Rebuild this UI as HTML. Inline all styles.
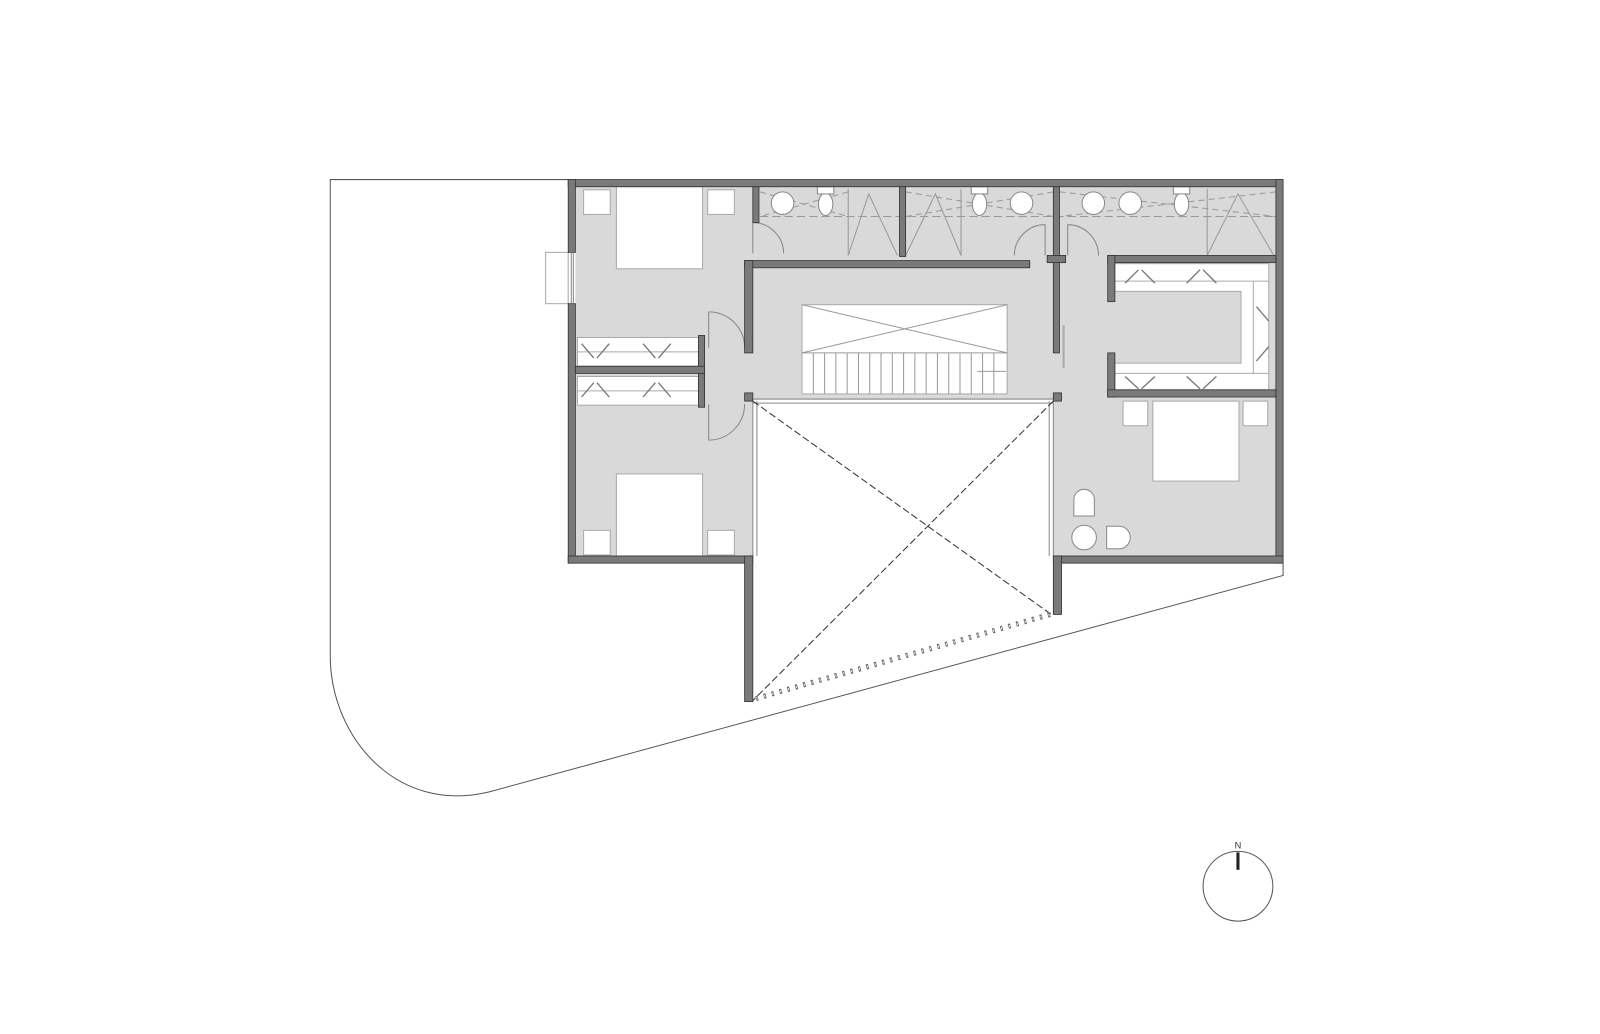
<!DOCTYPE html>
<html><head><meta charset="utf-8"><style>html,body{margin:0;padding:0;background:#fff}svg{display:block}</style></head>
<body>
<svg width="1600" height="1034" viewBox="0 0 1560 1008" xmlns="http://www.w3.org/2000/svg">
<rect width="1560" height="1008" fill="#fff"/>
<g transform="translate(-3,-1)">
<!-- site boundary -->
<path d="M557,176 H325 V640 C325,720 390,795 480,773 L1254,562 V550" fill="none" stroke="#555" stroke-width="1"/>
<!-- gray floor -->
<g fill="#d9d9d9">
<rect x="564" y="183" width="683" height="207"/>
<rect x="564" y="390" width="173" height="153"/>
<rect x="1030" y="390" width="217" height="153"/>
</g>
<!-- white areas -->
<g fill="#fff" stroke="#aaa" stroke-width="1">
<rect x="1090" y="258" width="150" height="123"/>
<rect x="566" y="330" width="118" height="28"/>
<rect x="566" y="368" width="118" height="28"/>
<rect x="785" y="298" width="200" height="87"/>
<rect x="604" y="183" width="84" height="80"/>
<rect x="572" y="186" width="26" height="24"/>
<rect x="693" y="186" width="26" height="24"/>
<rect x="604" y="463" width="84" height="80"/>
<rect x="572" y="518" width="26" height="24"/>
<rect x="693" y="518" width="26" height="24"/>
<rect x="1127" y="392" width="84" height="78"/>
<rect x="1098" y="392" width="24" height="24"/>
<rect x="1215" y="392" width="24" height="24"/>
<rect x="535" y="247" width="22" height="50"/>
</g>
<line x1="1090" y1="275" x2="1240" y2="275" stroke="#aaa"/>
<line x1="1090" y1="365" x2="1240" y2="365" stroke="#aaa"/>
<line x1="1225" y1="275" x2="1225" y2="365" stroke="#aaa"/>
<rect x="1086" y="285" width="127" height="70" fill="#d9d9d9" stroke="#aaa"/>
<rect x="1084" y="286" width="8" height="68" fill="#d9d9d9"/>
<line x1="566" y1="344" x2="684" y2="344" stroke="#aaa"/>
<line x1="566" y1="382" x2="684" y2="382" stroke="#aaa"/>
<!-- closet hanger marks -->
<g stroke="#777" stroke-width="1.3">
<path d="M570,336 l12,14 M585,350 l12,-14 M630,336 l12,14 M645,350 l12,-14"/>
<path d="M570,388 l12,-14 M585,374 l12,14 M630,388 l12,-14 M645,374 l12,14"/>
<path d="M1100,277 l13,-13 M1116,264 l13,13 M1160,277 l13,-13 M1176,264 l13,13"/>
<path d="M1100,368 l13,12 M1116,380 l13,-12 M1160,368 l13,12 M1176,380 l13,-12"/>
<path d="M1228,300 l12,14 M1228,353 l12,-14"/>
</g>
<!-- stair -->
<path d="M785,298 L985,345 M985,298 L785,345 M785,345 H985" stroke="#999" fill="none"/>
<g stroke="#999">
<line x1="796" y1="345" x2="796" y2="385"/><line x1="807" y1="345" x2="807" y2="385"/><line x1="818" y1="345" x2="818" y2="385"/><line x1="829" y1="345" x2="829" y2="385"/><line x1="840" y1="345" x2="840" y2="385"/><line x1="851" y1="345" x2="851" y2="385"/><line x1="862" y1="345" x2="862" y2="385"/><line x1="873" y1="345" x2="873" y2="385"/><line x1="884" y1="345" x2="884" y2="385"/><line x1="895" y1="345" x2="895" y2="385"/><line x1="906" y1="345" x2="906" y2="385"/><line x1="917" y1="345" x2="917" y2="385"/><line x1="928" y1="345" x2="928" y2="385"/><line x1="939" y1="345" x2="939" y2="385"/><line x1="950" y1="345" x2="950" y2="385"/><line x1="961" y1="345" x2="961" y2="385"/><line x1="972" y1="345" x2="972" y2="385"/>
<line x1="956" y1="363" x2="984" y2="363"/>
</g>
<!-- bath fixtures -->
<g stroke="#999" fill="none" stroke-width="1">
<path d="M744,212 H1247" stroke-dasharray="8 4"/>
<path d="M744,188 L830,212 M830,188 L744,212 M886,188 L1030,212 M1030,188 L886,212 M1036,188 L1247,212 M1247,188 L1036,212" stroke-dasharray="6 4"/>
<path d="M830,185 V250 M830,250 L850,190 L878,250 M940,185 V250 M886,250 L915,190 L940,250 M1180,185 V250 M1180,250 L1210,190 L1245,250"/>
</g>
<g fill="#fff" stroke="#888">
<circle cx="766" cy="199" r="11"/><ellipse cx="808" cy="200" rx="7" ry="11"/><rect x="800" y="183" width="16" height="7"/>
<circle cx="999" cy="199" r="11"/><ellipse cx="958" cy="200" rx="7" ry="11"/><rect x="950" y="183" width="16" height="7"/>
<circle cx="1069" cy="199" r="11"/><circle cx="1105" cy="199" r="11"/><ellipse cx="1155" cy="200" rx="7" ry="11"/><rect x="1147" y="183" width="16" height="7"/>
<path d="M1050,504 V488 a10,10 0 0 1 20,0 V504 Z"/>
<circle cx="1060" cy="525" r="12"/>
<path d="M1082,514 H1094 a11,11 0 0 1 0,22 H1082 Z"/>
</g>
<!-- doors -->
<g stroke="#888" fill="none">
<path d="M737,218 A30,30 0 0 1 767,248"/><line x1="737" y1="218" x2="737" y2="248"/>
<path d="M1022,220 A30,30 0 0 0 992,250"/><line x1="1022" y1="220" x2="1022" y2="250"/>
<path d="M1044,220 A30,30 0 0 1 1074,250"/><line x1="1044" y1="220" x2="1044" y2="250"/>
<path d="M694,305 A35,35 0 0 1 729,340"/><line x1="694" y1="305" x2="694" y2="340"/>
<path d="M694,430 A35,35 0 0 0 729,395"/><line x1="694" y1="395" x2="694" y2="430"/>
<line x1="1040" y1="318" x2="1040" y2="360" stroke="#aaa" stroke-width="2"/>
</g>
<!-- void -->
<g stroke="#888" fill="none">
<line x1="737" y1="390" x2="1030" y2="390"/><line x1="737" y1="394" x2="1030" y2="394"/>
<line x1="737" y1="392" x2="737" y2="543"/><line x1="741" y1="392" x2="741" y2="543"/>
<line x1="1026" y1="392" x2="1026" y2="543"/><line x1="1030" y1="392" x2="1030" y2="543"/>
</g>
<g stroke="#333" stroke-width="1" stroke-dasharray="7 3">
<line x1="737" y1="392" x2="1028" y2="600"/>
<line x1="1030" y1="392" x2="737" y2="684"/>
</g>
<line x1="740" y1="682" x2="1027" y2="600" stroke="#666" stroke-width="5" stroke-dasharray="2.2 5.8"/>
<line x1="740" y1="682" x2="1027" y2="600" stroke="#fff" stroke-width="2.5" stroke-dasharray="0.8 7.2" stroke-dashoffset="-0.7"/>
<!-- walls -->
<g fill="#7a7a7a" stroke="#333" stroke-width="0.8">
<rect x="557" y="176" width="697" height="7"/>
<rect x="557" y="176" width="7" height="71"/>
<rect x="557" y="297" width="7" height="253"/>
<rect x="1247" y="176" width="7" height="374"/>
<rect x="557" y="543" width="180" height="7"/>
<rect x="729" y="543" width="8" height="142"/>
<rect x="1030" y="543" width="224" height="7"/>
<rect x="1030" y="543" width="8" height="57"/>
<rect x="737" y="183" width="6" height="35"/>
<rect x="729" y="255" width="278" height="7"/>
<rect x="729" y="255" width="8" height="90"/>
<rect x="880" y="183" width="6" height="68"/>
<rect x="1030" y="183" width="6" height="162"/>
<rect x="1024" y="250" width="18" height="7"/>
<rect x="1083" y="250" width="164" height="7"/>
<rect x="1083" y="250" width="7" height="45"/>
<rect x="1083" y="345" width="7" height="43"/>
<rect x="1083" y="381" width="164" height="7"/>
<rect x="684" y="328" width="6" height="70"/>
<rect x="564" y="358" width="126" height="7"/>
<rect x="729" y="384" width="8" height="8"/>
<rect x="1030" y="384" width="8" height="8"/>
</g>
<g stroke="#888"><line x1="560" y1="247" x2="560" y2="297"/><line x1="562" y1="247" x2="562" y2="297"/></g>
<!-- compass -->
<circle cx="1210" cy="865" r="34" fill="none" stroke="#555"/>
<line x1="1210" y1="832" x2="1210" y2="849" stroke="#222" stroke-width="3"/>
<text x="1210" y="828" font-family="Liberation Sans, sans-serif" font-size="9" text-anchor="middle" fill="#333">N</text>
</g>
</svg>
</body></html>
